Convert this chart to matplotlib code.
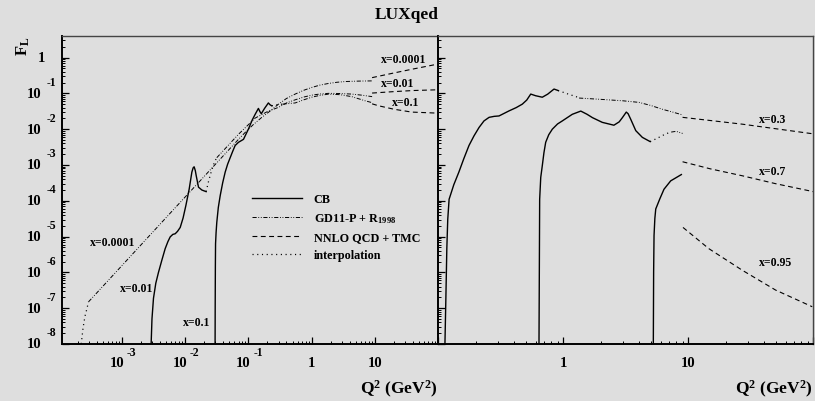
import numpy as np
import matplotlib.pyplot as plt
from matplotlib.ticker import LogLocator, NullFormatter

plt.rcParams['font.family'] = 'Liberation Serif'
plt.rcParams['font.weight'] = 'bold'
plt.rcParams['mathtext.fontset'] = 'custom'
plt.rcParams['mathtext.rm'] = 'Liberation Serif:bold'
plt.rcParams['mathtext.it'] = 'Liberation Serif:bold'
plt.rcParams['mathtext.bf'] = 'Liberation Serif:bold'
plt.rcParams['lines.scale_dashes'] = False

BG = '#dedede'

# ---- data: Q^2 in GeV^2, F_L ----
# x = 0.0001
ip_0001_q = [2.15e-4, 2.29e-4, 2.44e-4, 2.62e-4, 2.82e-4, 2.98e-4]
ip_0001_f = [3e-9, 1.0e-8, 2.7e-8, 5.9e-8, 9.8e-8, 1.5e-7]
gd_0001_q = [2.98e-4, 5.47e-3, 0.0698, 0.089, 0.120, 0.163, 0.225, 0.299, 0.40, 0.548, 0.75,
             1.0, 1.35, 1.84, 2.5, 3.38, 5.5, 9.0]
gd_0001_f = [1.5e-7, 4.0e-5, 5.2e-3, 8.1e-3, 0.0135, 0.0214, 0.033, 0.050, 0.072, 0.0955, 0.122,
             0.146, 0.170, 0.189, 0.204, 0.214, 0.220, 0.223]
nn_0001_q = [9.0, 20.0, 40.0, 100.0]
nn_0001_f = [0.275, 0.372, 0.479, 0.661]

# x = 0.01
cb_001_q = [2.85e-3, 2.91e-3, 3.0e-3, 3.17e-3, 3.45e-3, 3.80e-3, 4.3e-3, 4.85e-3, 5.35e-3,
            5.82e-3, 6.4e-3, 6.98e-3, 7.6e-3, 8.38e-3, 9.3e-3, 1.03e-2, 1.16e-2, 1.28e-2,
            1.34e-2, 1.39e-2, 1.45e-2, 1.50e-2, 1.63e-2, 1.84e-2, 2.15e-2]
cb_001_f = [1e-9, 1e-8, 5e-8, 1.9e-7, 5.0e-7, 1.0e-6, 2.2e-6, 4.6e-6, 7.2e-6,
            9.8e-6, 1.15e-5, 1.2e-5, 1.4e-5, 1.8e-5, 3.3e-5, 7.4e-5, 2.1e-4, 6.3e-4,
            8.3e-4, 8.9e-4, 7.0e-4, 5.0e-4, 2.4e-4, 2.0e-4, 1.8e-4]
ip_001_q = [2.15e-2, 2.34e-2, 2.61e-2, 2.91e-2, 3.17e-2]
ip_001_f = [1.8e-4, 3.4e-4, 6.8e-4, 1.2e-3, 1.6e-3]
gd_001_q = [3.17e-2, 0.0698, 0.128, 0.20, 0.299, 0.40, 0.548, 0.75, 1.0, 1.35, 1.84, 2.8, 4.3, 6.2, 9.0]
gd_001_f = [1.6e-3, 7.2e-3, 0.0204, 0.031, 0.0407, 0.054, 0.066, 0.079, 0.089, 0.096, 0.100, 0.099,
            0.0955, 0.089, 0.081]
nn_001_q = [9.0, 20.0, 40.0, 100.0]
nn_001_f = [0.102, 0.112, 0.120, 0.126]

# x = 0.1
cb_01_q = [0.0297, 0.0299, 0.0301, 0.0303, 0.0309, 0.0317, 0.0335, 0.0359, 0.0393, 0.0430,
           0.0470, 0.0516, 0.0565, 0.0618, 0.0698, 0.0837, 0.100, 0.115, 0.128, 0.144,
           0.152, 0.160, 0.180, 0.207, 0.22, 0.234]
cb_01_f = [1e-9, 1e-7, 1.5e-6, 6.3e-6, 1.3e-5, 2.5e-5, 6.5e-5, 1.4e-4, 3.2e-4, 6.3e-4,
           1.05e-3, 1.6e-3, 2.4e-3, 3.5e-3, 4.3e-3, 5.2e-3, 0.010, 0.018, 0.026, 0.038,
           0.031, 0.027, 0.038, 0.054, 0.048, 0.045]
ip_01_q = [0.234, 0.28, 0.347]
ip_01_f = [0.045, 0.048, 0.050]
gd_01_q = [0.347, 0.548, 0.75, 1.0, 1.35, 1.84, 2.8, 4.3, 7.0, 9.0]
gd_01_f = [0.050, 0.054, 0.066, 0.078, 0.088, 0.095, 0.092, 0.081, 0.062, 0.055]
nn_01_q = [9.0, 11.4, 20.0, 38.0, 100.0]
nn_01_f = [0.051, 0.045, 0.036, 0.030, 0.028]

# x = 0.3
cb_03_q = [0.112, 0.113, 0.115, 0.117, 0.119, 0.122, 0.133, 0.146, 0.160, 0.176, 0.193,
           0.212, 0.232, 0.255, 0.28, 0.306, 0.368, 0.420, 0.470, 0.51, 0.549, 0.60,
           0.679, 0.75, 0.843, 0.909]
cb_03_f = [1e-9, 1e-8, 2.0e-7, 4.6e-6, 3.0e-5, 1.1e-4, 2.8e-4, 6.3e-4, 1.5e-3, 3.5e-3, 6.5e-3,
           0.0112, 0.0170, 0.0214, 0.0228, 0.0234, 0.0324, 0.040, 0.050, 0.065, 0.0955, 0.086,
           0.078, 0.095, 0.132, 0.120]
ip_03_q = [0.909, 1.1, 1.337]
ip_03_f = [0.120, 0.095, 0.076]
gd_03_q = [1.337, 2.0, 3.0, 4.03, 5.0, 6.2, 7.5, 9.0]
gd_03_f = [0.074, 0.068, 0.062, 0.056, 0.046, 0.036, 0.030, 0.025]
nn_03_q = [9.0, 27.0, 100.0]
nn_03_f = [0.0214, 0.0138, 0.0074]

# x = 0.7
cb_07_q = [0.636, 0.639, 0.643, 0.647, 0.660, 0.679, 0.70, 0.723, 0.765, 0.817, 0.90, 0.982, 1.18,
           1.38, 1.55, 1.71, 2.05, 2.54, 2.80, 2.97, 3.19, 3.30, 3.46, 3.80, 4.29, 4.95]
cb_07_f = [1e-9, 1e-8, 1e-6, 1.1e-4, 4.5e-4, 9.5e-4, 2.2e-3, 4.3e-3, 7.0e-3, 0.010, 0.014, 0.017, 0.026,
           0.032, 0.026, 0.021, 0.0155, 0.0129, 0.016, 0.021, 0.030, 0.027, 0.019, 9.1e-3,
           5.9e-3, 4.5e-3]
ip_07_q = [4.95, 5.6, 6.6, 7.3]
ip_07_f = [4.5e-3, 5.5e-3, 7.4e-3, 8.3e-3]
gd_07_q = [7.3, 8.0, 9.0]
gd_07_f = [8.3e-3, 8.7e-3, 7.6e-3]
nn_07_q = [9.0, 15.0, 27.0, 50.0, 100.0]
nn_07_f = [1.23e-3, 7.8e-4, 5.0e-4, 3.0e-4, 1.8e-4]

# x = 0.95
cb_095_q = [5.22, 5.25, 5.28, 5.32, 5.40, 5.49, 5.91, 6.39, 7.23, 8.8]
cb_095_f = [1e-9, 1e-8, 1e-6, 1.07e-5, 3.2e-5, 5.9e-5, 1.12e-4, 2.1e-4, 3.6e-4, 5.4e-4]
nn_095_q = [9.07, 14.6, 27.0, 50.0, 98.0]
nn_095_f = [1.8e-5, 4.6e-6, 1.15e-6, 3.2e-7, 1.1e-7]

legend_labels = ['CB', 'GD11-P + R$_{1998}$', 'NNLO QCD + TMC', 'interpolation']

# ---- styles ----
cb = dict(color='k', lw=1.0, ls='-')
gd = dict(color='k', lw=0.7, ls=(0, (3, 1.2, 0.6, 1.2, 0.6, 1.2)))
nn = dict(color='k', lw=0.8, ls=(0, (3.5, 2.5)))
ip = dict(color='k', lw=0.9, ls=(0, (0.8, 2.6)))

fig = plt.figure(figsize=(8.15, 4.02), dpi=100, facecolor=BG)
axL = fig.add_axes([62.3 / 815, 57 / 402, 376 / 815, 308 / 402], facecolor=BG)
axR = fig.add_axes([438.3 / 815, 57 / 402, 375 / 815, 308 / 402], facecolor=BG)

# left panel
axL.plot(ip_0001_q, ip_0001_f, **ip)
axL.plot(gd_0001_q, gd_0001_f, **gd)
axL.plot(nn_0001_q, nn_0001_f, **nn)
axL.plot(cb_001_q, cb_001_f, **cb)
axL.plot(ip_001_q, ip_001_f, **ip)
axL.plot(gd_001_q, gd_001_f, **gd)
axL.plot(nn_001_q, nn_001_f, **nn)
axL.plot(cb_01_q, cb_01_f, **cb)
axL.plot(ip_01_q, ip_01_f, **ip)
axL.plot(gd_01_q, gd_01_f, **gd)
axL.plot(nn_01_q, nn_01_f, **nn)

# right panel
axR.plot(cb_03_q, cb_03_f, **cb)
axR.plot(ip_03_q, ip_03_f, **ip)
axR.plot(gd_03_q, gd_03_f, **gd)
axR.plot(nn_03_q, nn_03_f, **nn)
axR.plot(cb_07_q, cb_07_f, **cb)
axR.plot(ip_07_q, ip_07_f, **ip)
axR.plot(gd_07_q, gd_07_f, **gd)
axR.plot(nn_07_q, nn_07_f, **nn)
axR.plot(cb_095_q, cb_095_f, **cb)
axR.plot(nn_095_q, nn_095_f, **nn)

axL.set_xlim(1.15e-4, 100)
axR.set_xlim(0.1, 100)
for ax in (axL, axR):
    ax.set_xscale('log')
    ax.set_yscale('log')
    ax.set_ylim(1e-8, 4)
    ax.xaxis.set_major_locator(LogLocator(base=10, numticks=20))
    ax.xaxis.set_minor_locator(LogLocator(base=10, subs=np.arange(2, 10), numticks=20))
    ax.yaxis.set_major_locator(LogLocator(base=10, numticks=20))
    ax.yaxis.set_minor_locator(LogLocator(base=10, subs=np.arange(2, 10), numticks=20))
    for a in (ax.xaxis, ax.yaxis):
        a.set_major_formatter(NullFormatter())
        a.set_minor_formatter(NullFormatter())
    ax.tick_params(which='both', direction='in', top=False, right=False, color='k')
    ax.tick_params(which='major', length=5, width=0.9)
    ax.tick_params(which='minor', length=2.5, width=0.7)
    for s in ('top', 'right'):
        ax.spines[s].set_linewidth(1.0)
        ax.spines[s].set_color('#444444')
    for s in ('bottom', 'left'):
        ax.spines[s].set_linewidth(1.4)
        ax.spines[s].set_color('k')


def xticklabels(ax, ticks):
    for t in ticks:
        e = int(round(np.log10(t)))
        if e == 0 or e == 1:
            ax.annotate('1' if e == 0 else '10', xy=(t, 0), xycoords=('data', 'axes fraction'),
                        xytext=(0, -13), textcoords='offset points',
                        ha='center', va='center', fontsize=10.5)
        else:
            ax.annotate('10', xy=(t, 0), xycoords=('data', 'axes fraction'),
                        xytext=(-3.6, -13), textcoords='offset points',
                        ha='center', va='center', fontsize=10.5)
            ax.annotate(str(e), xy=(t, 0), xycoords=('data', 'axes fraction'),
                        xytext=(3.6, -6), textcoords='offset points',
                        ha='left', va='center', fontsize=8.5)


xticklabels(axL, [1e-3, 1e-2, 1e-1, 1, 10])
xticklabels(axR, [1, 10])

for e in range(0, -9, -1):
    if e == 0:
        axL.annotate('1', xy=(0, 1.0), xycoords=('axes fraction', 'data'),
                     xytext=(-12.5, 0), textcoords='offset points',
                     ha='right', va='center', fontsize=10.5)
    else:
        axL.annotate('10', xy=(0, 10.0 ** e), xycoords=('axes fraction', 'data'),
                     xytext=(-14.8, 0), textcoords='offset points',
                     ha='right', va='center', fontsize=10.5)
        axL.annotate(str(e), xy=(0, 10.0 ** e), xycoords=('axes fraction', 'data'),
                     xytext=(-11.2, 8.4), textcoords='offset points',
                     ha='left', va='center', fontsize=8.5)

# curve labels
lab = dict(fontsize=8.5, ha='left', va='center')
axL.text(12.2, 0.90, 'x=0.0001', **lab)
axL.text(12.2, 0.20, 'x=0.01', **lab)
axL.text(18.4, 0.0558, 'x=0.1', **lab)
axL.text(3.17e-4, 7.0e-6, 'x=0.0001', **lab)
axL.text(9.4e-4, 3.7e-7, 'x=0.01', **lab)
axL.text(9.2e-3, 4.0e-8, 'x=0.1', **lab)
axR.text(36.8, 0.0191, 'x=0.3', **lab)
axR.text(36.8, 6.7e-4, 'x=0.7', **lab)
axR.text(36.8, 2.0e-6, 'x=0.95', **lab)

# legend
handles = [plt.Line2D([], [], **cb), plt.Line2D([], [], **gd),
           plt.Line2D([], [], **nn), plt.Line2D([], [], **ip)]
axL.legend(handles, legend_labels, loc='upper left', bbox_to_anchor=(0.5045, 0.49),
           frameon=False, fontsize=8.7, handlelength=4.1, handletextpad=1.0,
           labelspacing=0.5, borderpad=0, borderaxespad=0)

fig.text(407 / 815, 1 - 15 / 402, 'LUXqed', ha='center', va='center', fontsize=12.5)
fig.text(23 / 815, 1 - 46 / 402, 'F$_{L}$', ha='center', va='center', rotation=90, fontsize=12)
fig.text(438 / 815, 1 - 389 / 402, 'Q$^{2}$ (GeV$^{2}$)', ha='right', va='center', fontsize=12.5)
fig.text(813 / 815, 1 - 389 / 402, 'Q$^{2}$ (GeV$^{2}$)', ha='right', va='center', fontsize=12.5)

fig.savefig('out.png', dpi=100, facecolor=BG)
